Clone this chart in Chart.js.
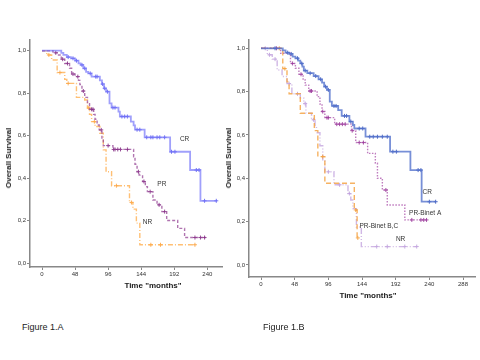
<!DOCTYPE html>
<html><head><meta charset="utf-8">
<script src="https://cdn.jsdelivr.net/npm/chart.js@4/dist/chart.umd.min.js"></script>
<style>
html,body{margin:0;padding:0;background:#fff;width:480px;height:360px;overflow:hidden;font-family:"Liberation Sans",Arial,sans-serif;}
canvas{position:absolute;}
.t{position:absolute;white-space:nowrap;color:#1a1a1a;line-height:1;}
.yt{font-weight:bold;font-size:8px;transform:translate(-50%,-50%) rotate(-90deg);}
.xt{font-weight:bold;font-size:8px;transform:translate(-50%,-50%);}
.cap{font-size:9px;transform:translateY(-50%);color:#222;}
</style></head><body>
<canvas id="cA" width="240" height="300" style="left:0;top:0"></canvas>
<canvas id="cB" width="260" height="310" style="left:220px;top:0"></canvas>
<div class="t yt" style="left:9px;top:158px">Overall Survival</div>
<div class="t yt" style="left:229px;top:158px">Overall Survival</div>
<div class="t xt" style="left:153px;top:286px">Time "months"</div>
<div class="t xt" style="left:368px;top:296px">Time "months"</div>
<div class="t cap" style="left:22px;top:327px">Figure 1.A</div>
<div class="t cap" style="left:263px;top:327px">Figure 1.B</div>
<script>
// ---- tick labels ----
const yTicks = [0, 0.2, 0.4, 0.6, 0.8, 1.0];
const xTicksA = [0, 48, 96, 144, 192, 240];
const xTicksB = [0, 48, 96, 144, 192, 240, 288];

// ---- Figure 1.A ----
const crTimeA = [0, 28, 31, 36, 42, 48, 53, 56, 60, 64, 67, 72, 84, 87, 90, 93, 98, 101, 111, 113, 129, 133, 135, 149, 186, 215, 230, 253];
const crSurvA = [1, .99, .98, .97, .964, .953, .94, .933, .917, .90, .893, .878, .86, .843, .823, .807, .752, .732, .713, .69, .666, .648, .628, .592, .524, .438, .293, .293];
const crCensA = [38, 45, 50, 58, 62, 70, 78, 80, 88, 91, 95, 103, 106, 116, 120, 124, 138, 142, 152, 158, 161, 167, 171, 178, 188, 193, 224, 228, 236, 253];

const prTimeA = [0, 16, 24, 28, 33, 40, 43, 48, 53, 55, 58, 62, 66, 69, 75, 77, 80, 83, 87, 89, 103, 133, 135, 138, 141, 146, 150, 153, 161, 167, 174, 181, 197, 207, 238];
const prSurvA = [1, .99, .98, .96, .94, .917, .89, .878, .86, .84, .81, .78, .75, .724, .70, .677, .65, .627, .588, .553, .535, .50, .465, .43, .414, .384, .36, .336, .297, .274, .242, .20, .163, .12, .12];
const prCensA = [20, 30, 37, 45, 52, 60, 72, 74, 86, 96, 104, 106, 110, 114, 124, 140, 148, 157, 170, 178, 222, 230, 236];

const nrTimeA = [0, 7, 14, 22, 33, 36, 50, 62, 66, 69, 72, 77, 84, 89, 93, 101, 127, 132, 137, 142, 222];
const nrSurvA = [1, .98, .956, .897, .865, .846, .78, .768, .73, .70, .666, .643, .611, .533, .43, .364, .285, .254, .188, .086, .086];
const nrCensA = [10, 26, 38, 68, 76, 108, 130, 158, 172, 222];

const labelTextA = ['CR', 'PR', 'NR'];
const labelTimeA = [207, 174, 153];
const labelSurvA = [0.584, 0.37, 0.19];

// ---- Figure 1.B ----
const crTimeB = [0, 31, 35, 40, 45, 49, 53, 56, 59, 61, 66, 75, 82, 87, 90, 94, 98, 101, 110, 115, 126, 131, 133, 149, 184, 213, 229, 249];
const crSurvB = [1, .99, .98, .974, .962, .954, .943, .93, .915, .897, .885, .872, .857, .842, .823, .808, .754, .734, .715, .688, .662, .646, .63, .592, .523, .438, .292, .292];
const crCensB = [20, 38, 43, 52, 58, 63, 70, 78, 85, 92, 96, 104, 107, 119, 122, 128, 140, 145, 155, 160, 166, 173, 180, 188, 193, 224, 228, 240, 249];

const praTimeB = [0, 28, 42, 49, 54, 60, 63, 68, 80, 84, 87, 91, 105, 129, 135, 152, 163, 166, 173, 180, 205, 236];
const praSurvB = [1, .977, .93, .908, .88, .854, .83, .803, .777, .743, .708, .68, .65, .62, .565, .515, .47, .40, .346, .277, .208, .208];
const praCensB = [22, 45, 57, 70, 72, 88, 94, 96, 108, 112, 116, 120, 130, 140, 146, 178, 215, 228, 232, 236];

const prbcTimeB = [0, 31, 37, 40, 56, 76, 81, 91, 133, 137, 138];
const prbcSurvB = [1, .906, .845, .79, .70, .62, .50, .377, .254, .125, .125];
const prbcCensB = [26, 34, 88, 135, 138];

const nrTimeB = [0, 9, 16, 23, 30, 37, 44, 56, 61, 64, 72, 77, 79, 84, 88, 91, 104, 124, 128, 131, 136, 143, 222];
const nrSurvB = [1, .97, .95, .90, .87, .837, .79, .77, .745, .70, .67, .64, .61, .55, .48, .43, .37, .33, .30, .26, .175, .085, .085];
const nrCensB = [6, 12, 20, 40, 52, 63, 75, 96, 112, 126, 165, 180, 205, 222];

const labelTextB = ['CR', 'PR-Binet A', 'PR-Binet B,C', 'NR'];
const labelTimeB = [237, 234, 168, 199];
const labelSurvB = [0.338, 0.241, 0.177, 0.12];

// ---- helpers ----
function kmPoints(times, surv) { return times.map((t, i) => ({x: t, y: surv[i]})); }
function survAt(times, surv, t) { let s = surv[0]; for (let i = 0; i < times.length; i++) { if (times[i] <= t) s = surv[i]; } return s; }
function censPoints(times, surv, cens) { return cens.map(t => ({x: t, y: survAt(times, surv, t)})); }

function group(times, surv, cens, lineColor, markColor, width, dash) {
  return [
    {data: kmPoints(times, surv), stepped: 'before', borderColor: lineColor, borderWidth: width, borderDash: dash, pointRadius: 0, fill: false, clip: false},
    {data: censPoints(times, surv, cens), showLine: false, pointStyle: 'cross', pointRadius: 2, borderColor: markColor, backgroundColor: markColor, borderWidth: 1, clip: false}
  ];
}

const curveLabels = {
  id: 'curveLabels',
  afterDatasetsDraw(chart, args, opts) {
    const {ctx, scales: {x, y}} = chart;
    ctx.save();
    ctx.font = '6.5px "Liberation Sans", Arial, sans-serif';
    ctx.fillStyle = '#333';
    ctx.textAlign = 'center';
    ctx.textBaseline = 'middle';
    opts.text.forEach((txt, i) => ctx.fillText(txt, x.getPixelForValue(opts.time[i]), y.getPixelForValue(opts.surv[i])));
    ctx.restore();
  }
};

function scales(xMin, xMax, yMin, yMax, xTicks, yWidth) {
  const tickFont = {size: 6, family: '"Liberation Sans", Arial, sans-serif'};
  return {
    x: {type: 'linear', min: xMin, max: xMax,
      afterBuildTicks: s => { s.ticks = xTicks.map(v => ({value: v})); },
      afterFit: s => { s.height = 25; },
      ticks: {font: tickFont, color: '#333', padding: 1, autoSkip: false, maxRotation: 0, callback: v => String(v)},
      grid: {display: true, drawOnChartArea: false, drawTicks: true, tickLength: 3, color: '#888'},
      border: {display: true, color: '#888', width: 1.5}},
    y: {type: 'linear', min: yMin, max: yMax,
      afterBuildTicks: s => { s.ticks = yTicks.map(v => ({value: v})); },
      afterFit: s => { s.width = yWidth; },
      ticks: {font: tickFont, color: '#333', padding: 1, autoSkip: false, callback: v => v.toFixed(1).replace('.', ',')},
      grid: {display: true, drawOnChartArea: false, drawTicks: true, tickLength: 3, color: '#888'},
      border: {display: true, color: '#888', width: 1.5}}
  };
}

new Chart(document.getElementById('cA'), {
  type: 'line',
  data: {datasets: [
    ...group(crTimeA, crSurvA, crCensA, 'rgba(120,120,250,0.7)', 'rgba(90,90,240,0.85)', 1.8, []),
    ...group(prTimeA, prSurvA, prCensA, 'rgba(150,70,150,0.75)', 'rgba(130,40,130,0.85)', 1.4, [3, 2]),
    ...group(nrTimeA, nrSurvA, nrCensA, 'rgba(255,175,80,0.8)', 'rgba(250,160,60,0.85)', 1.4, [5, 2, 1, 2])
  ]},
  options: {
    responsive: false, animation: false,
    layout: {padding: {left: 0, top: 40, right: 18, bottom: 8}},
    plugins: {legend: {display: false}, tooltip: {enabled: false},
      curveLabels: {text: labelTextA, time: labelTimeA, surv: labelSurvA}},
    scales: scales(-17.42, 261.3, -0.0188, 1.0504, xTicksA, 30)
  },
  plugins: [curveLabels]
});

new Chart(document.getElementById('cB'), {
  type: 'line',
  data: {datasets: [
    ...group(crTimeB, crSurvB, crCensB, 'rgba(85,115,205,0.8)', 'rgba(60,90,190,0.9)', 1.8, []),
    ...group(praTimeB, praSurvB, praCensB, 'rgba(170,80,170,0.75)', 'rgba(150,50,150,0.85)', 1.4, [1.5, 1.5]),
    ...group(prbcTimeB, prbcSurvB, prbcCensB, 'rgba(245,165,70,0.85)', 'rgba(245,160,60,0.9)', 1.4, [5, 3]),
    ...group(nrTimeB, nrSurvB, nrCensB, 'rgba(200,170,225,0.85)', 'rgba(190,160,220,0.9)', 1.4, [6, 2, 1, 2, 1, 2])
  ]},
  options: {
    responsive: false, animation: false,
    layout: {padding: {left: 0, top: 40, right: 0, bottom: 8}},
    plugins: {legend: {display: false}, tooltip: {enabled: false},
      curveLabels: {text: labelTextB, time: labelTimeB, surv: labelSurvB}},
    scales: scales(-17.16, 305.1, -0.0554, 1.0383, xTicksB, 29)
  },
  plugins: [curveLabels]
});
</script>
</body></html>
